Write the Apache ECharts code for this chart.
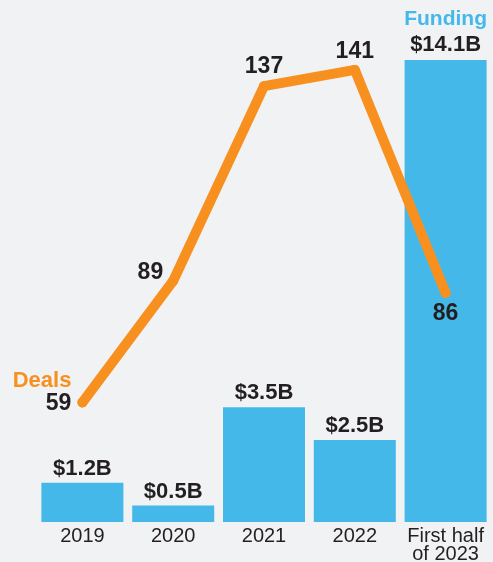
<!DOCTYPE html>
<html>
<head>
    <meta charset="utf-8">
    <title>Funding and deals</title>
    <script src="https://cdn.jsdelivr.net/npm/echarts@6/dist/echarts.min.js"></script>
    <style>
        html, body { margin: 0; padding: 0; background: #f1f2f4; }
    </style>
</head>
<body>
    <div id="main" style="width: 493px;height:562px;"></div>
    <script type="text/javascript">
        var categories = ['2019', '2020', '2021', '2022', 'First half\nof 2023'];
        var funding = [1.2, 0.5, 3.5, 2.5, 14.1];
        var deals = [59, 89, 137, 141, 86];

        var FONT = '"Liberation Sans", Arial, Helvetica, sans-serif';
        var DARK = '#231f20';
        var BLUE = '#44b9e9';
        var ORANGE = '#f7901e';

        var myChart = echarts.init(document.getElementById('main'));

        // bar data, the last bar also carries the "Funding" title
        var barData = funding.map(function (v, i) {
            var d = { value: v };
            if (i === funding.length - 1) {
                d.label = {
                    formatter: '{f|Funding}\n{v|$' + v + 'B}',
                    distance: 2
                };
            }
            return d;
        });

        // per-point placement of the deal labels
        var lineLabels = [
            { position: 'left', distance: 6, offset: [0, -10],
              formatter: '{d|Deals}\n{n|' + deals[0] + '}' },
            { position: 'left', distance: 5, offset: [0, -8] },
            { position: 'top', distance: 3 },
            { position: 'top', distance: 2 },
            { position: 'bottom', distance: 5 }
        ];
        var lineData = deals.map(function (v, i) {
            return { value: v, label: lineLabels[i] };
        });

        var option = {
            backgroundColor: '#f1f2f4',
            animation: false,
            grid: { left: 37, right: 2, top: 60, bottom: 40, containLabel: false, outerBoundsMode: 'none' },
            xAxis: {
                type: 'category',
                data: categories,
                axisLine: { show: false },
                axisTick: { show: false },
                axisLabel: {
                    interval: 0,
                    color: DARK,
                    fontFamily: FONT,
                    fontSize: 20,
                    lineHeight: 18,
                    margin: 5
                }
            },
            yAxis: [
                { type: 'value', min: 0, max: 14.1, show: false, splitLine: { show: false } },
                { type: 'value', min: 29.5, max: 143.45, show: false, splitLine: { show: false } }
            ],
            series: [{
                name: 'Funding',
                type: 'bar',
                yAxisIndex: 0,
                barWidth: 82,
                itemStyle: { color: BLUE },
                label: {
                    show: true,
                    position: 'top',
                    distance: 3,
                    color: DARK,
                    fontFamily: FONT,
                    fontWeight: 'bold',
                    fontSize: 22,
                    lineHeight: 22,
                    formatter: function (p) { return '$' + p.value + 'B'; },
                    rich: {
                        f: { color: BLUE, fontFamily: FONT, fontWeight: 'bold', fontSize: 21, lineHeight: 26, align: 'center' },
                        v: { color: DARK, fontFamily: FONT, fontWeight: 'bold', fontSize: 22, lineHeight: 26, align: 'center' }
                    }
                },
                data: barData
            }, {
                name: 'Deals',
                type: 'line',
                yAxisIndex: 1,
                symbol: 'circle',
                symbolSize: 10,
                itemStyle: { color: ORANGE },
                lineStyle: { color: ORANGE, width: 10, cap: 'round', join: 'round' },
                label: {
                    show: true,
                    color: DARK,
                    fontFamily: FONT,
                    fontWeight: 'bold',
                    fontSize: 23,
                    lineHeight: 22,
                    rich: {
                        d: { color: ORANGE, fontFamily: FONT, fontWeight: 'bold', fontSize: 22, lineHeight: 22, align: 'right' },
                        n: { color: DARK, fontFamily: FONT, fontWeight: 'bold', fontSize: 23, lineHeight: 22, align: 'right' }
                    }
                },
                data: lineData
            }]
        };

        myChart.setOption(option);
    </script>
</body>
</html>
